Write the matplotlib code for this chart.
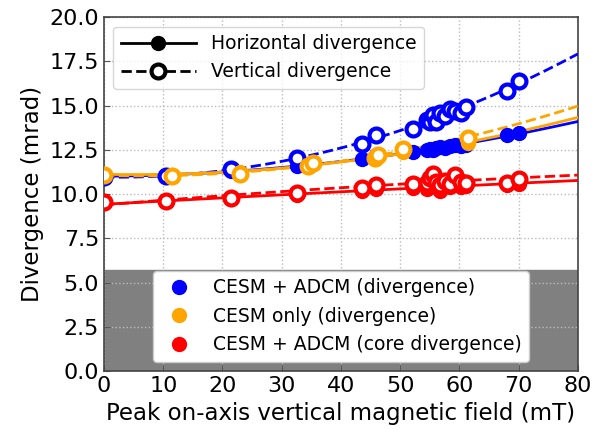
import numpy as np
import matplotlib
matplotlib.use("Agg")
import matplotlib.pyplot as plt
from matplotlib.lines import Line2D

# peak on-axis vertical field (mT)
adcm_field = [0, 10.5, 21.5, 32.5, 43.5, 45.9, 52.2, 54.6, 55.1, 55.6, 56.1,
              56.8, 57.5, 58.4, 59.3, 60.2, 61.2, 68.0, 70.0]
adcm_hor = [11.05, 11.0, 11.3, 11.6, 12.0, 12.2, 12.4, 12.5, 12.55, 12.5, 12.6,
            12.65, 12.6, 12.7, 12.75, 12.7, 12.8, 13.35, 13.45]
adcm_ver = [10.95, 11.03, 11.4, 12.06, 12.85, 13.32, 13.66, 14.2, 14.05, 14.5, 14.1,
            14.6, 14.4, 14.8, 14.7, 14.6, 14.9, 15.85, 16.42]

core_hor = [9.5, 9.6, 9.7, 9.95, 10.2, 10.3, 10.35, 10.3, 10.5, 10.6, 10.4,
            10.2, 10.5, 10.4, 10.6, 10.4, 10.45, 10.5, 10.6]
core_ver = [9.53, 9.62, 9.77, 10.09, 10.34, 10.5, 10.56, 10.65, 10.9, 11.15, 10.7,
            10.5, 10.75, 10.6, 11.1, 10.7, 10.65, 10.65, 10.85]

cesm_field = [0, 11.4, 22.9, 34.4, 35.3, 45.7, 46.2, 50.5, 61.5]
cesm_hor = [11.15, 11.1, 11.25, 11.6, 11.7, 12.0, 12.1, 12.4, 12.9]
cesm_ver = [11.1, 11.03, 11.12, 11.6, 11.78, 12.06, 12.2, 12.55, 13.2]

series = [
    ("CESM + ADCM (divergence)", "blue", adcm_field, adcm_hor, adcm_ver),
    ("CESM only (divergence)", "orange", cesm_field, cesm_hor, cesm_ver),
    ("CESM + ADCM (core divergence)", "red", adcm_field, core_hor, core_ver),
]

fig = plt.figure(figsize=(6.05, 4.3), dpi=100)
ax = fig.add_axes([0.172, 0.137, 0.783, 0.823])

ax.axhspan(0, 5.7, color="gray", zorder=1)

xx = np.linspace(0, 80, 200)
for name, col, x, h, v in series:
    x = np.array(x)
    ph = np.polyfit(x, h, 2)
    pv = np.polyfit(x, v, 2)
    ax.plot(xx, np.polyval(ph, xx), "-", color=col, lw=2, zorder=3)
    ax.plot(xx, np.polyval(pv, xx), "--", color=col, lw=2, zorder=3)
    ax.plot(x, h, "o", color=col, ms=10, zorder=4)
    ax.plot(x, v, "o", color=col, ms=10, mfc="white", mew=3, zorder=4)

ax.set_xlim(0, 80)
ax.set_ylim(0, 20)
ax.set_xticks(np.arange(0, 81, 10))
ax.set_yticks(np.arange(0, 20.1, 2.5))
ax.yaxis.set_major_formatter(matplotlib.ticker.FormatStrFormatter("%.1f"))
ax.tick_params(direction="in", labelsize=16, length=4, color="#555555")
ax.grid(True, ls=":", color="#bbbbbb", lw=1)
for s in ax.spines.values():
    s.set_color("#444444")
    s.set_linewidth(1.2)
ax.set_xlabel("Peak on-axis vertical magnetic field (mT)", fontsize=16.5)
ax.set_ylabel("Divergence (mrad)", fontsize=16.5)

style_handles = [
    Line2D([], [], color="black", ls="-", lw=2, marker="o", ms=10),
    Line2D([], [], color="black", ls="--", lw=2, marker="o", ms=10, mfc="white", mew=3),
]
leg1 = ax.legend(style_handles, ["Horizontal divergence", "Vertical divergence"],
                 loc="upper left", fontsize=13.5, handlelength=4)
ax.add_artist(leg1)

color_handles = [Line2D([], [], color=c, ls="none", marker="o", ms=10) for _, c, _, _, _ in series]
ax.legend(color_handles, [s[0] for s in series], loc="lower center", fontsize=13.5,
          framealpha=1, bbox_to_anchor=(0.5, 0.0))

fig.savefig("out.png", dpi=100)
